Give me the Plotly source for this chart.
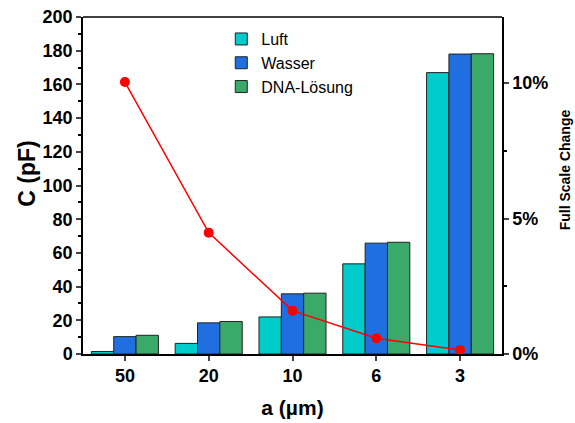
import plotly.graph_objects as go

categories = ["50", "20", "10", "6", "3"]
luft = [1.5, 6.3, 22.0, 53.5, 167.0]
wasser = [10.3, 18.5, 35.7, 65.8, 178.0]
dna = [11.1, 19.3, 36.1, 66.3, 178.2]
fsc = [0.1004, 0.0448, 0.0160, 0.0058, 0.0015]

FONT = "Liberation Sans, Arial, sans-serif"

fig = go.Figure()
for name, vals, col in [("Luft", luft, "#00CCCC"), ("Wasser", wasser, "#1F6FE0"), ("DNA-Lösung", dna, "#3AAA6A")]:
    fig.add_trace(go.Bar(x=categories, y=vals, name=name, marker=dict(color=col, line=dict(color="#222222", width=1))))

fig.add_trace(go.Scatter(x=categories, y=fsc, yaxis="y2", mode="lines+markers", showlegend=False,
                         line=dict(color="#FF0000", width=1.5), marker=dict(color="#FF0000", size=10)))

fig.update_layout(
    width=575, height=423,
    margin=dict(l=83, r=73, t=17, b=69, autoexpand=False),
    plot_bgcolor="white", paper_bgcolor="white",
    barmode="group", bargap=0.2, bargroupgap=0,
    font=dict(family=FONT, color="black"),
    xaxis=dict(type="category", range=[-0.5, 4.5], showline=True, linecolor="black", linewidth=1.5,
               ticks="outside", ticklen=5, tickwidth=1.5, mirror=False, automargin=False,
               tickfont=dict(size=18, weight="bold"),
               title=dict(text="a (µm)", font=dict(size=21, weight="bold"), standoff=15)),
    yaxis=dict(range=[0, 200], dtick=20, showline=True, linecolor="black", linewidth=1.5,
               ticks="outside", ticklen=5, tickwidth=1.5, showgrid=False, zeroline=False, automargin=False,
               minor=dict(dtick=10, ticks="outside", ticklen=3, tickcolor="black"),
               tickfont=dict(size=18, weight="bold")),
    yaxis2=dict(overlaying="y", side="right", range=[0, 0.1244], tickvals=[0, 0.05, 0.10],
                ticktext=["0%", "5%", "10%"], showline=True, linecolor="black", linewidth=1.5,
                ticks="outside", ticklen=5, tickwidth=1.5, showgrid=False, zeroline=False, automargin=False,
                minor=dict(tickvals=[0.025, 0.075], ticks="outside", ticklen=3, tickcolor="black"),
                tickfont=dict(size=18, weight="bold")),
    legend=dict(x=0.33, y=0.985, xanchor="left", yanchor="top", bgcolor="rgba(0,0,0,0)",
                font=dict(size=16), itemwidth=30, tracegroupgap=0),
    shapes=[dict(type="line", xref="paper", yref="paper", x0=0, x1=1, y0=1, y1=1,
                 line=dict(color="black", width=1.5))],
    annotations=[
        dict(text="<b>C (pF)</b>", textangle=-90, xref="paper", yref="paper",
             x=-56 / 419, y=0.535, xanchor="center", yanchor="middle", showarrow=False,
             font=dict(size=23)),
        dict(text="<b>Full Scale Change</b>", textangle=-90, xref="paper", yref="paper",
             x=1 + 63 / 419, y=0.545, xanchor="center", yanchor="middle", showarrow=False,
             font=dict(size=14)),
    ],
)

fig.write_html("out.html")
